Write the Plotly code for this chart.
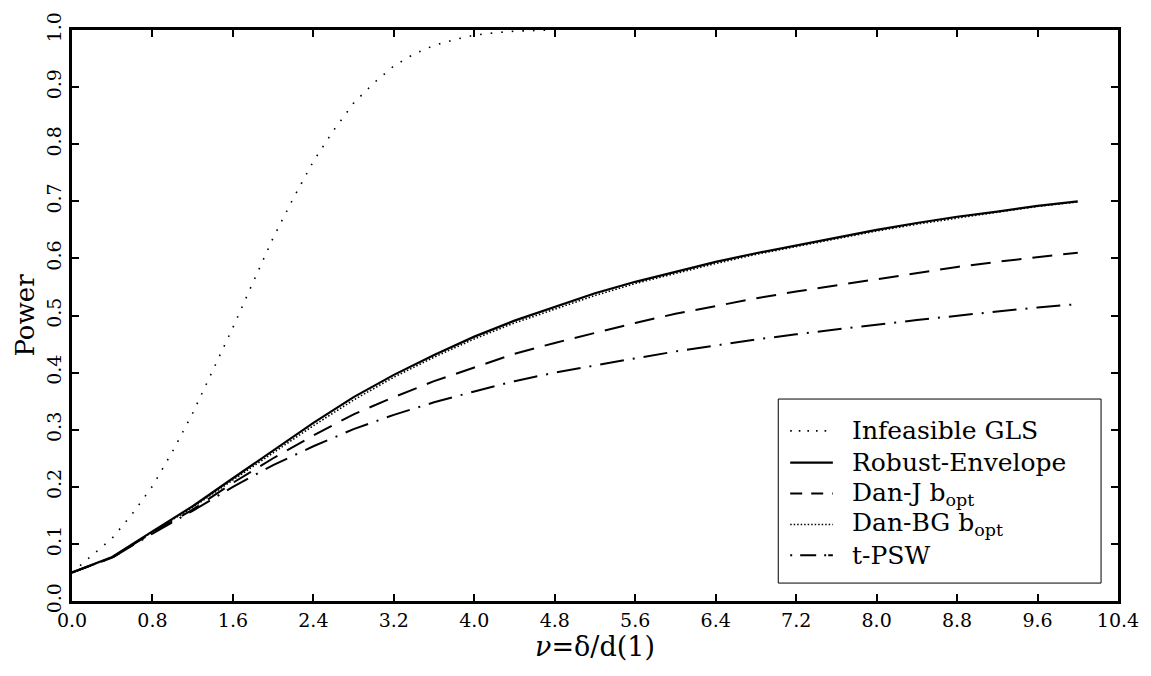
import plotly.graph_objects as go

# Non-centrality grid and power curves
nu = [0.0, 0.4, 0.8, 1.2, 1.6, 2.0, 2.4, 2.8, 3.2, 3.6, 4.0, 4.4, 4.8,
      5.2, 5.6, 6.0, 6.4, 6.8, 7.2, 7.6, 8.0, 8.4, 8.8, 9.2, 9.6, 10.0]

gls_nu = [0.0, 0.2, 0.4, 0.6, 0.8, 1.0, 1.2, 1.4, 1.6, 1.8, 2.0, 2.2, 2.4,
          2.6, 2.8, 3.0, 3.2, 3.4, 3.6, 3.8, 4.0, 4.2, 4.4, 4.6, 4.8]
infeasible_gls = [0.050, 0.080, 0.110, 0.153, 0.201, 0.262, 0.329, 0.404, 0.479,
                  0.558, 0.636, 0.705, 0.770, 0.824, 0.872, 0.907, 0.937, 0.958,
                  0.973, 0.983, 0.991, 0.995, 0.998, 0.999, 1.000]

robust_envelope = [0.050, 0.077, 0.122, 0.166, 0.215, 0.264, 0.312, 0.357, 0.396,
                   0.431, 0.463, 0.491, 0.515, 0.539, 0.559, 0.577, 0.594, 0.609,
                   0.623, 0.637, 0.650, 0.662, 0.673, 0.682, 0.692, 0.700]

dan_j = [0.050, 0.076, 0.120, 0.160, 0.207, 0.250, 0.290, 0.327, 0.357, 0.385,
         0.409, 0.433, 0.452, 0.470, 0.487, 0.503, 0.517, 0.530, 0.542, 0.553,
         0.564, 0.575, 0.585, 0.594, 0.602, 0.610]

dan_bg = [0.050, 0.077, 0.121, 0.164, 0.212, 0.260, 0.307, 0.352, 0.392, 0.427,
          0.459, 0.487, 0.511, 0.535, 0.556, 0.574, 0.591, 0.607, 0.621, 0.635,
          0.648, 0.660, 0.671, 0.681, 0.691, 0.699]

t_psw = [0.050, 0.076, 0.118, 0.158, 0.200, 0.238, 0.271, 0.301, 0.326, 0.348,
         0.367, 0.385, 0.400, 0.413, 0.425, 0.437, 0.448, 0.458, 0.467, 0.476,
         0.484, 0.492, 0.500, 0.507, 0.514, 0.520]

series_names = ["Infeasible GLS", "Robust-Envelope", "Dan-J b<sub>opt</sub>",
                "Dan-BG b<sub>opt</sub>", "t-PSW"]

x_ticks = [0.0, 0.8, 1.6, 2.4, 3.2, 4.0, 4.8, 5.6, 6.4, 7.2, 8.0, 8.8, 9.6, 10.4]
y_ticks = [0.0, 0.1, 0.2, 0.3, 0.4, 0.5, 0.6, 0.7, 0.8, 0.9, 1.0]

SERIF = "DejaVu Serif"

styles = [
    dict(color="black", width=1.6, dash="1.6px,9px"),
    dict(color="black", width=2.2),
    dict(color="black", width=2, dash="20px,11px"),
    dict(color="black", width=1.6, dash="1.5px,2px"),
    dict(color="black", width=2, dash="24px,9px,2px,9px"),
]
legend_sample_styles = [
    dict(color="black", width=1.6, dash="1.6px,7px"),
    dict(color="black", width=2.2),
    dict(color="black", width=2, dash="12px,9px"),
    dict(color="black", width=1.6, dash="1.5px,2px"),
    dict(color="black", width=2, dash="2px,8px,16px,8px,2px"),
]

xs = [gls_nu, nu, nu, nu, nu]
ys = [infeasible_gls, robust_envelope, dan_j, dan_bg, t_psw]

fig = go.Figure()
for x, y, name, st in zip(xs, ys, series_names, styles):
    fig.add_trace(go.Scatter(x=x, y=y, mode="lines", name=name, line=st,
                             showlegend=False))

# Legend box drawn in plot-area (paper) coordinates
box = dict(x0=0.6752, x1=0.9838, y0=0.0314, y1=0.3537)
fig.add_shape(type="rect", xref="paper", yref="paper", line=dict(color="black", width=1),
              fillcolor="white", layer="above", **box)
row_y = [0.2979, 0.2422, 0.1882, 0.1341, 0.0801]
for ry, name, st in zip(row_y, series_names, legend_sample_styles):
    fig.add_shape(type="line", xref="paper", yref="paper", x0=0.6866, x1=0.7274,
                  y0=ry, y1=ry, line=st, layer="above")
    fig.add_annotation(xref="paper", yref="paper", x=0.7435, y=ry, text=name,
                       showarrow=False, xanchor="left", yanchor="middle",
                       font=dict(family=SERIF, size=25, color="black"))

axis_common = dict(
    showline=True, linecolor="black", linewidth=3, mirror="ticks",
    ticks="inside", ticklen=7, tickwidth=1.5, tickcolor="black",
    showgrid=False, zeroline=False,
    tickfont=dict(family=SERIF, size=19, color="black"),
)

fig.update_layout(
    width=1151, height=676,
    margin=dict(l=72, r=26, t=27, b=75),
    paper_bgcolor="white", plot_bgcolor="white",
    font=dict(family=SERIF, color="black"),
    xaxis=dict(range=[0, 10.4], tickvals=x_ticks, tickformat=".1f",
               title=dict(text="<i>ν</i>=δ/d(1)",
                          font=dict(family=SERIF, size=27), standoff=8),
               **axis_common),
    yaxis=dict(range=[0, 1.0], tickvals=y_ticks, tickformat=".1f", tickangle=-90,
               title=dict(text="Power", font=dict(family=SERIF, size=26), standoff=2),
               **axis_common),
    showlegend=False,
)

fig.write_html("out.html")
